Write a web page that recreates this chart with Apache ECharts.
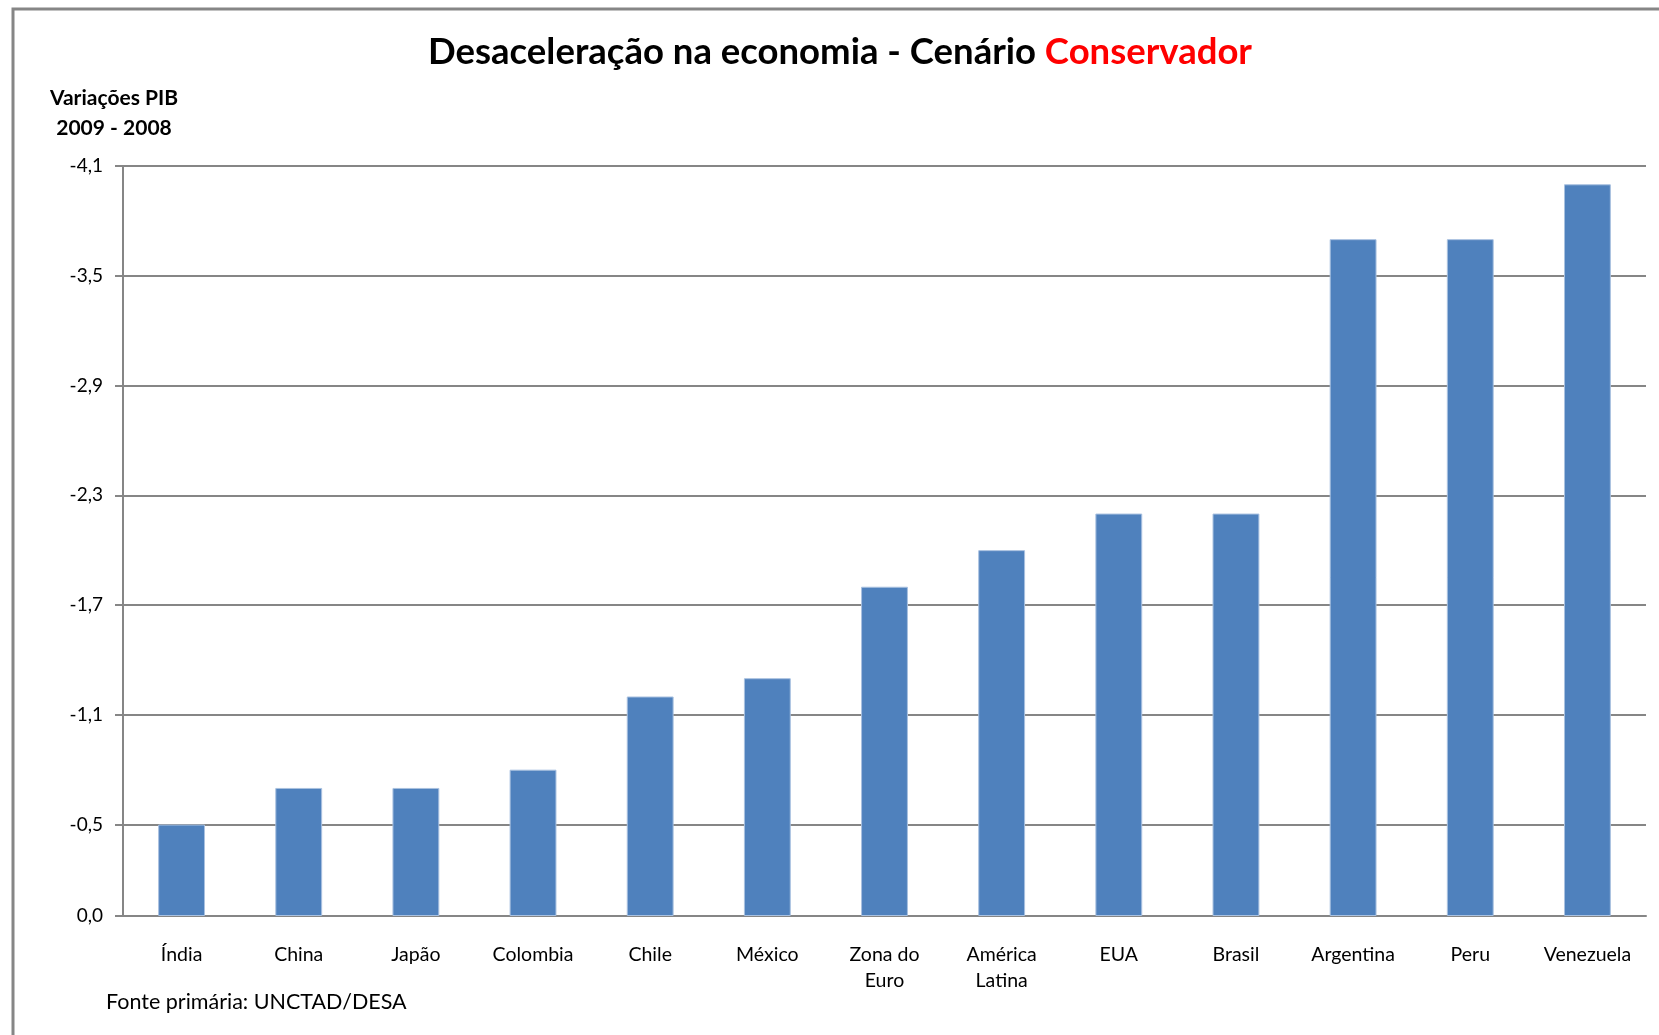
<!DOCTYPE html>
<html>
<head>
<meta charset="utf-8">
<script src="https://cdn.jsdelivr.net/npm/echarts@6/dist/echarts.min.js"></script>
<style>
  html, body { margin: 0; padding: 0; background: #fff; }
  #chart { width: 1659px; height: 1035px; }
</style>
</head>
<body>
<div id="chart"></div>
<script>
// dados
const paises = ['Índia', 'China', 'Japão', 'Colombia', 'Chile', 'México', 'Zona do\nEuro', 'América\nLatina', 'EUA', 'Brasil', 'Argentina', 'Peru', 'Venezuela']
const variacaoPib = [-0.5, -0.7, -0.7, -0.8, -1.2, -1.3, -1.8, -2.0, -2.2, -2.2, -3.7, -3.7, -4.0]
const yTicks = [0, -0.5, -1.1, -1.7, -2.3, -2.9, -3.5, -4.1]

const fonte = 'Lato, "Noto Sans", sans-serif'
const cinza = '#868686'

const chart = echarts.init(document.getElementById('chart'))

chart.setOption({
  animation: false,
  textStyle: { fontFamily: fonte, color: '#000' },
  title: [
    {
      left: 835,
      top: 29,
      textAlign: 'center',
      text: '{a|Desaceleração na economia - Cenário }{b|Conservador}',
      textStyle: {
        rich: {
          a: { fontFamily: fonte, fontSize: 36.5, fontWeight: 'bold', color: '#000' },
          b: { fontFamily: fonte, fontSize: 36.5, fontWeight: 'bold', color: '#ff0000' }
        }
      }
    },
    {
      left: 109,
      top: 78,
      textAlign: 'center',
      text: 'Variações PIB\n2009 - 2008',
      textStyle: { fontFamily: fonte, fontSize: 21, fontWeight: 'bold', color: '#000', lineHeight: 30 }
    },
    {
      left: 101,
      top: 986,
      text: 'Fonte primária: UNCTAD/DESA',
      textStyle: { fontFamily: fonte, fontSize: 21.5, fontWeight: 'normal', color: '#000' }
    }
  ],
  graphic: [{
    type: 'rect',
    shape: { x: 13, y: 9, width: 1700, height: 1100 },
    style: { fill: 'none', stroke: cinza, lineWidth: 3 },
    silent: true
  }],
  grid: { left: 123, right: 13, top: 166, bottom: 119, containLabel: false },
  xAxis: {
    type: 'category',
    data: paises,
    axisLine: { lineStyle: { color: cinza, width: 2 } },
    axisTick: { inside: true, length: 6, lineStyle: { color: cinza, width: 2 } },
    axisLabel: { color: '#000', fontSize: 19.5, margin: 26, lineHeight: 26 }
  },
  yAxis: {
    type: 'value',
    inverse: true,
    min: -4.1,
    max: 0,
    axisLine: { show: true, lineStyle: { color: cinza, width: 2 } },
    axisTick: { show: true, length: 8, customValues: yTicks, lineStyle: { color: cinza, width: 2 } },
    axisLabel: {
      customValues: yTicks,
      color: '#000',
      fontSize: 19,
      margin: 20,
      formatter: v => (v === 0 ? '0,0' : v.toFixed(1).replace('.', ','))
    },
    splitLine: { show: true, lineStyle: { color: cinza, width: 2 } }
  },
  series: [{
    type: 'bar',
    data: variacaoPib,
    barWidth: '40%',
    itemStyle: { color: '#4f81bd', borderColor: '#a9c1e0', borderWidth: 1 }
  }]
})
</script>
</body>
</html>
